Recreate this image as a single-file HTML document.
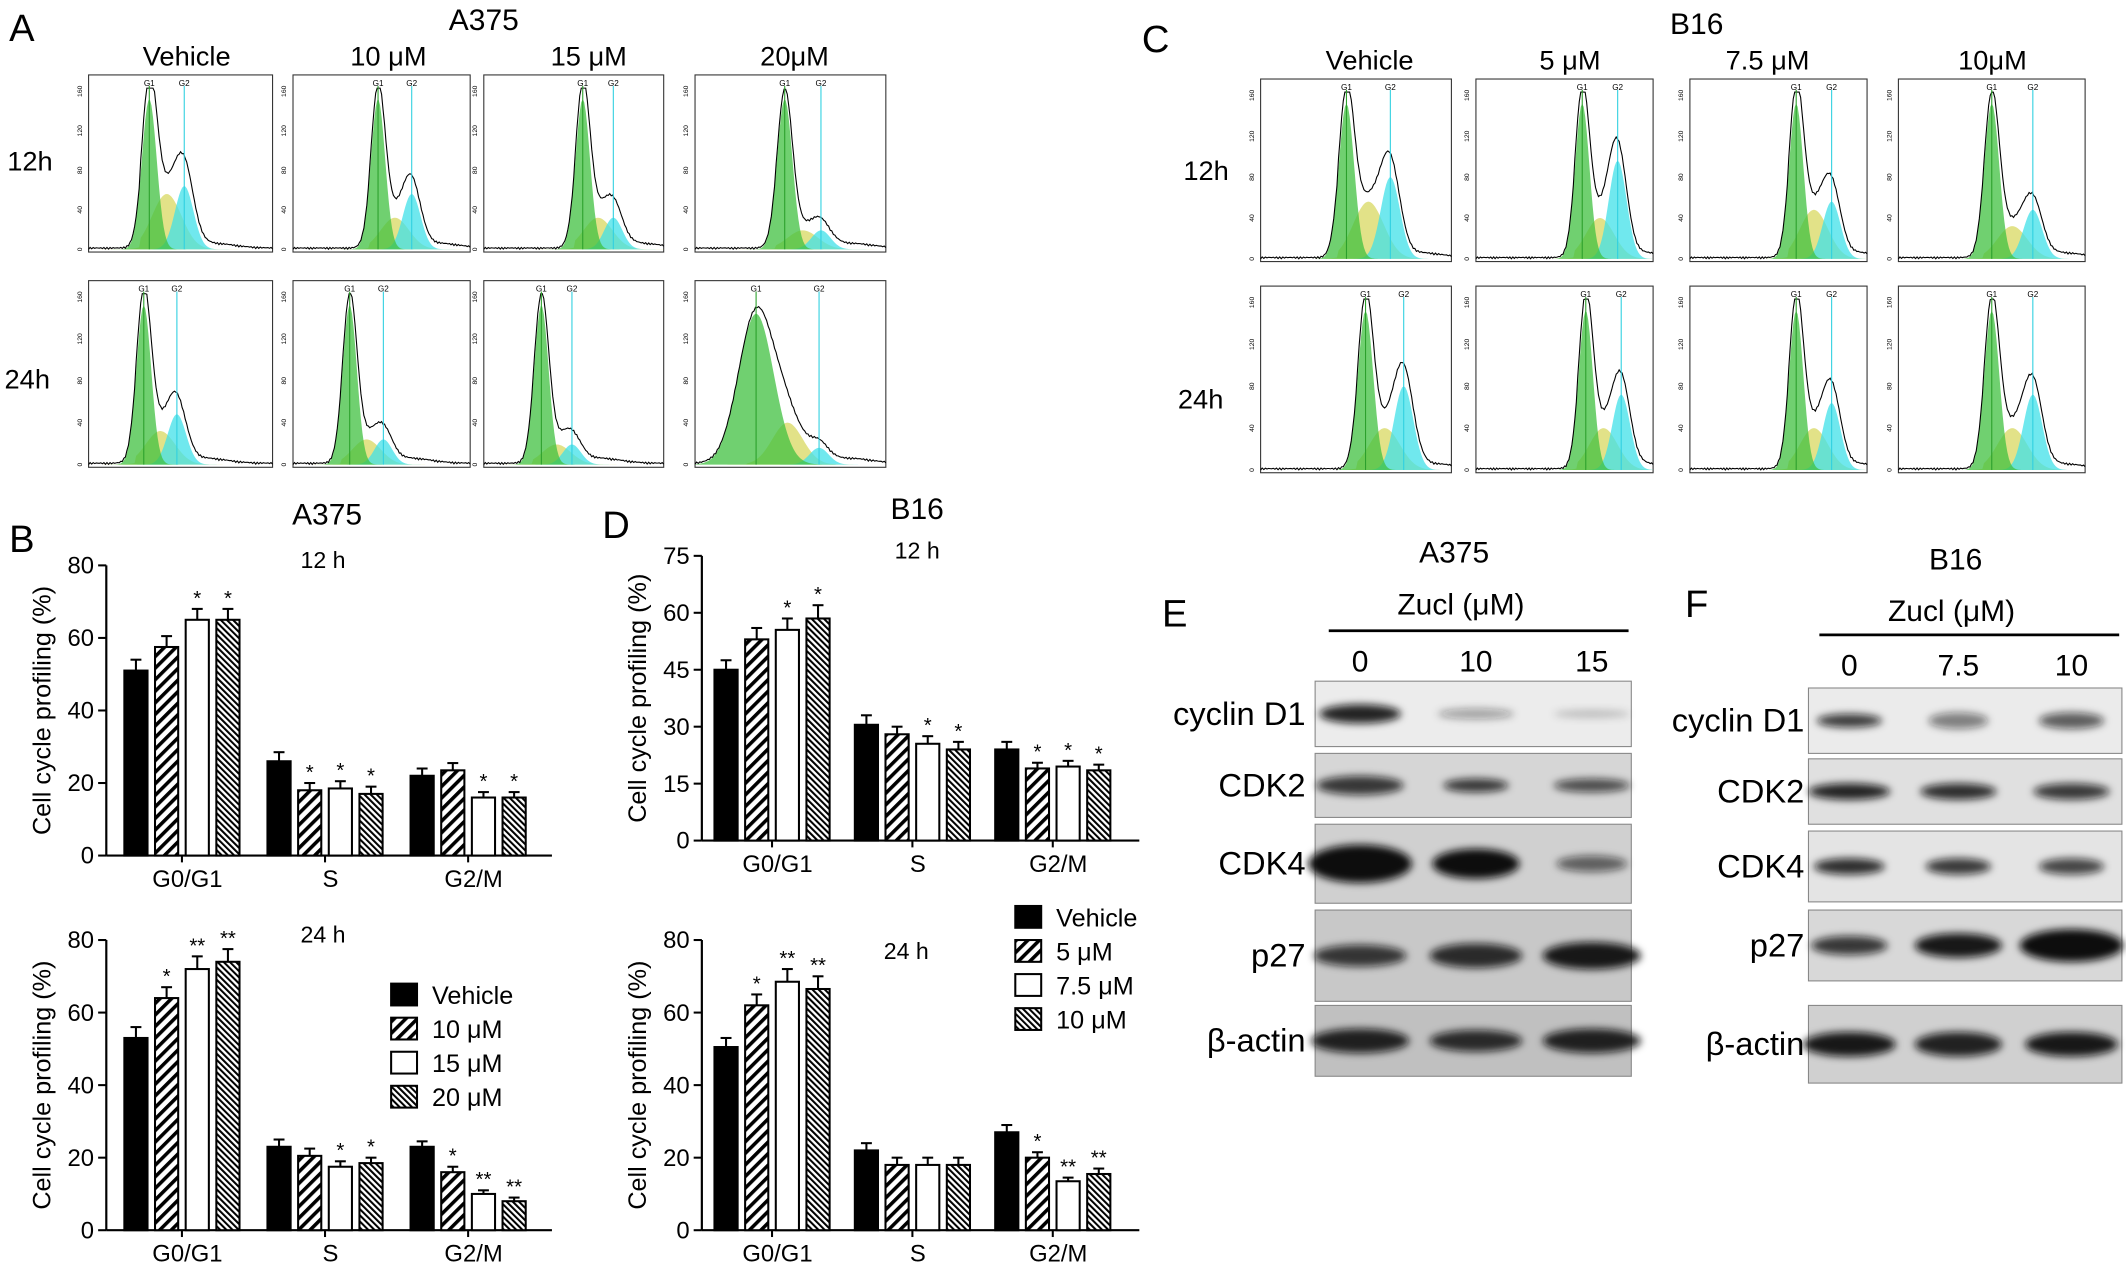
<!DOCTYPE html>
<html><head><meta charset="utf-8"><style>
html,body{margin:0;padding:0;background:#fff;}
svg{display:block;font-family:"Liberation Sans",Arial,sans-serif;}
</style></head><body>
<svg id="fig" width="2126" height="1267" viewBox="0 0 1560 930" preserveAspectRatio="none" xmlns="http://www.w3.org/2000/svg">
<defs>
<pattern id="hatchA" patternUnits="userSpaceOnUse" width="6" height="6" patternTransform="rotate(45)"><rect width="6" height="6" fill="#fff"/><rect width="2.6" height="6" fill="#000"/></pattern>
<pattern id="hatchB" patternUnits="userSpaceOnUse" width="3.2" height="3.2" patternTransform="rotate(-45)"><rect width="3.2" height="3.2" fill="#fff"/><rect width="1.5" height="3.2" fill="#000"/></pattern>
<filter id="blur" x="-30%" y="-80%" width="160%" height="260%"><feGaussianBlur stdDeviation="3"/></filter>
</defs>
<g id="root"></g>
</svg>
<script>
// ---- bar chart data ----
const categories=["G0/G1","S","G2/M"];
const a375_12h=[[51,57.5,65,65],[26,18,18.5,17],[22,23.5,16,16]];
const a375_24h=[[53,64,72,74],[23,20.5,17.5,18.5],[23,16,10,8]];
const b16_12h=[[45,53,55.5,58.5],[30.5,28,25.5,24],[24,19,19.5,18.5]];
const b16_24h=[[50.5,62,68.5,66.5],[22,18,18,18],[27,20,13.5,15.5]];
const a375_12h_err=[[3,3,3,3],[2.5,2,2,2],[2,2,1.5,1.5]];
const a375_24h_err=[[3,3,3.5,3.5],[2,2,1.5,1.5],[1.5,1.5,1,1]];
const b16_12h_err=[[2.5,3,3,3.5],[2.5,2,2,2],[2,1.5,1.5,1.5]];
const b16_24h_err=[[2.5,3,3.5,3.5],[2,2,2,2],[2,1.5,1,1.5]];
const a375_12h_stars=[["","","*","*"],["","*","*","*"],["","","*","*"]];
const a375_24h_stars=[["","*","**","**"],["","","*","*"],["","*","**","**"]];
const b16_12h_stars=[["","","*","*"],["","","*","*"],["","*","*","*"]];
const b16_24h_stars=[["","*","**","**"],["","","",""],["","*","**","**"]];
const ticksA=[0,20,40,60,80];
const ticksB12=[0,15,30,45,60,75];
const legendA=["Vehicle","10 μM","15 μM","20 μM"];
const legendB=["Vehicle","5 μM","7.5 μM","10 μM"];

const NS="http://www.w3.org/2000/svg";
const root=document.getElementById('root');
function el(tag,attrs,parent,text){const e=document.createElementNS(NS,tag);for(const k in attrs)e.setAttribute(k,attrs[k]);if(text!==undefined)e.textContent=text;(parent||root).appendChild(e);return e;}
const fills=["#000","url(#hatchA)","#fff","url(#hatchB)"];

function txt(x,y,s,size,name,anchor){const t=el('text',{x:x,y:y,'font-size':size,'text-anchor':anchor||'middle',fill:'#000'},root,s);

return t;}

function chart(name,x0,x1,off,yTop,yBot,ymax,ticks,vals,errs,stars){
  const g=el('g',{});
  
  
  const ys=v=>yBot-(v/ymax)*(yBot-yTop);
  const band=(x1-x0)/categories.length;
  el('line',{x1:x0,y1:yTop,x2:x0,y2:yBot,stroke:'#000','stroke-width':1.6},g);
  el('line',{x1:x0,y1:yBot,x2:x1+12,y2:yBot,stroke:'#000','stroke-width':1.6},g);
  ticks.forEach(t=>{el('line',{x1:x0-6,y1:ys(t),x2:x0,y2:ys(t),stroke:'#000','stroke-width':1.5},g);
    const tl=el('text',{x:x0-9,y:ys(t)+6,'font-size':17.5,'text-anchor':'end'},g,t);
    
    });
  const bw=17,gap=5.5;
  categories.forEach((c,i)=>{
    const cx=x0+band*(i+0.5)+off;
    el('line',{x1:cx,y1:yBot,x2:cx,y2:yBot+5,stroke:'#000','stroke-width':1.5},g);
    const cl=el('text',{x:cx+4,y:yBot+23,'font-size':17.5,'text-anchor':'middle'},g,c);
    
    
    const start=cx-(4*bw+3*gap)/2;
    vals[i].forEach((v,j)=>{
      const bx=start+j*(bw+gap);
      const top=ys(v+errs[i][j]);
      el('line',{x1:bx+bw/2,y1:ys(v),x2:bx+bw/2,y2:top,stroke:'#000','stroke-width':1.5},g);
      el('line',{x1:bx+bw/2-4,y1:top,x2:bx+bw/2+4,y2:top,stroke:'#000','stroke-width':1.5},g);
      const r=el('rect',{x:bx,y:ys(v),width:bw,height:yBot-ys(v),fill:fills[j],stroke:'#000','stroke-width':1.5},g);
      
      
      if(stars[i][j]){const st=el('text',{x:bx+bw/2,y:top-3,'font-size':15,'text-anchor':'middle'},g,stars[i][j]);
        
        }
    });
  });
  const yl=el('text',{transform:`translate(${x0-41},${(yTop+yBot)/2}) rotate(-90)`,'font-size':18.5,'text-anchor':'middle'},g,'Cell cycle profiling (%)');
  
  
}
function legend(name,x,y,labels){
  const g=el('g',{});
  
  
  labels.forEach((l,j)=>{
    el('rect',{x:x,y:y+j*25-8,width:19,height:16,fill:fills[j],stroke:'#000','stroke-width':1.5},g);
    const t=el('text',{x:x+30,y:y+j*25+7,'font-size':18.5},g,l);
    
    
  });
}

// Panel B
txt(16,405,'B',28,'panel-label-b');
txt(240,385,'A375',22,'title-b');
txt(237,417,'12 h',17,'subtitle-12h');
chart('chart-a375-12h',78,393,3,415,628,80,ticksA,a375_12h,a375_12h_err,a375_12h_stars);
txt(237,692,'24 h',17,'subtitle-24h');
chart('chart-a375-24h',78,393,3,690,903,80,ticksA,a375_24h,a375_24h_err,a375_24h_stars);
legend('legend-a375',287,730,legendA);
// Panel D
txt(452,395,'D',28,'panel-label-d');
txt(673,381,'B16',22,'title-d');
txt(673,410,'12 h',17,'subtitle-12h');
chart('chart-b16-12h',515,824,0,408,617,75,ticksB12,b16_12h,b16_12h_err,b16_12h_stars);
txt(665,704,'24 h',17,'subtitle-24h');
chart('chart-b16-24h',515,824,0,690,903,80,ticksA,b16_24h,b16_24h_err,b16_24h_stars);
legend('legend-b16',745,673,legendB);

// ---- flow histograms (decorative) ----
function gauss(x,m,s){return Math.exp(-0.5*((x-m)/s)**2);}
function histo(x,y,w,h,p){
  const g=el('g',{});
  
  
  el('rect',{x:x,y:y,width:w,height:h,fill:'#fff',stroke:'#333','stroke-width':0.8},g);
  const N=120,base=y+h-2;
  const g1=p.g1*w,g2=p.g2*w;
  const f=(k,i)=>{const xx=i/N*w;
    const a=p.a*gauss(xx,g1,w*0.04*(p.s||1));
    const b=p.b*gauss(xx,(g1+g2)/2,w*0.08)*(xx>g1-w*0.05?1:0.2);
    const c=p.c*gauss(xx,g2,w*0.05);
    return [a,b,c][k];};
  const mk=(k,col)=>{let d=`M${x},${base}`;for(let i=0;i<=N;i++){d+=` L${x+i/N*w},${base-f(k,i)*(h-14)}`;}d+=` L${x+w},${base}Z`;
    el('path',{d:d,fill:col,'fill-opacity':0.75,stroke:'none'},g);};
  mk(1,'#d8d860');mk(2,'#40e0e8');mk(0,'#40c040');
  let d='';for(let i=0;i<=N;i++){const v=f(0,i)+f(1,i)+f(2,i)+0.012*Math.abs(Math.sin(i*1.7))+(i/N>p.g1?0.03*gauss(i/N*w,g2+w*0.15,w*0.12):0);
    d+=(i?' L':'M')+(x+i/N*w)+','+(base-Math.min(v,1.02)*(h-14));}
  el('path',{d:d,fill:'none',stroke:'#000','stroke-width':0.8},g);
  el('line',{x1:x+g1,y1:y+8,x2:x+g1,y2:base,stroke:'#2ca02c','stroke-width':0.8},g);
  el('line',{x1:x+g2,y1:y+8,x2:x+g2,y2:base,stroke:'#30d0e0','stroke-width':0.8},g);
  el('text',{x:x+g1,y:y+8,'font-size':6,'text-anchor':'middle'},g,'G1');
  el('text',{x:x+g2,y:y+8,'font-size':6,'text-anchor':'middle'},g,'G2');
  for(let i=0;i<5;i++){el('text',{transform:`translate(${x-5},${base-i*(h-14)/4}) rotate(-90)`,'font-size':5,'text-anchor':'middle'},g,i*40);}
}
const ap=[{g1:.33,g2:.52,a:.95,b:.35,c:.4},{g1:.48,g2:.67,a:.95,b:.2,c:.35},{g1:.55,g2:.72,a:.95,b:.2,c:.2},{g1:.47,g2:.66,a:.95,b:.12,c:.12}];
const ap2=[{g1:.3,g2:.48,a:.95,b:.2,c:.3},{g1:.32,g2:.51,a:.95,b:.15,c:.15},{g1:.32,g2:.49,a:.95,b:.12,c:.12},{g1:.32,g2:.65,a:.9,b:.25,c:.1,s:2.3}];
txt(16,30,'A',28,'panel-label-a');
txt(355,22,'A375',22,'title-a');
[[137,'Vehicle'],[285,'10 μM'],[432,'15 μM'],[583,'20μM']].forEach(c=>txt(c[0],48,c[1],20,'column-header'));
txt(22,125,'12h',20,'row-label-12h');txt(20,285,'24h',20,'row-label-24h');
const axs=[[65,135],[215,130],[355,132],[510,140]];
axs.forEach((c,i)=>{histo(c[0],55,c[1],130,ap[i]);histo(c[0],206,c[1],137,ap2[i]);});
txt(848,38,'C',28,'panel-label-c');
txt(1245,25,'B16',22,'title-c');
[[1005,'Vehicle'],[1152,'5 μM'],[1297,'7.5 μM'],[1462,'10μM']].forEach(c=>txt(c[0],51,c[1],20,'column-header'));
txt(885,132,'12h',20,'row-label-12h');txt(881,300,'24h',20,'row-label-24h');
const cxs=[[925,140],[1083,130],[1240,130],[1393,137]];
const cp=[{g1:.45,g2:.68,a:.95,b:.35,c:.5},{g1:.6,g2:.8,a:.95,b:.25,c:.6},{g1:.6,g2:.8,a:.95,b:.3,c:.35},{g1:.5,g2:.72,a:.95,b:.2,c:.3}];
const cp2=[{g1:.55,g2:.75,a:.95,b:.25,c:.5},{g1:.62,g2:.82,a:.95,b:.25,c:.45},{g1:.6,g2:.8,a:.95,b:.25,c:.4},{g1:.5,g2:.72,a:.95,b:.25,c:.45}];
cxs.forEach((c,i)=>{histo(c[0],58,c[1],134,cp[i]);histo(c[0],210,c[1],137,cp2[i]);});

// ---- western blots (decorative) ----
function blot(name,x,w,y,h,bg,bands){
  const g=el('g',{});
  
  
  el('rect',{x:x,y:y,width:w,height:h,fill:bg,stroke:'#888','stroke-width':0.8},g);
  bands.forEach(b=>el('ellipse',{cx:b[0],cy:y+h/2,rx:b[1],ry:b[2],fill:'#111','fill-opacity':b[3],filter:'url(#blur)'},g));
}
txt(862,460,'E',28,'panel-label-e');
txt(1067,413,'A375',22,'title-e');
txt(1072,451,'Zucl (μM)',22,'zucl-label-e');
el('line',{x1:975,y1:463,x2:1195,y2:463,stroke:'#000','stroke-width':2});
txt(998,493,'0',22,'dose-0');txt(1083,493,'10',22,'dose-10');txt(1168,493,'15',22,'dose-15');
const eL=[998,1083,1168];
[['cyclin D1',500,48,'#ececec',[[eL[0],30,7,.9],[eL[1],28,4,.35],[eL[2],28,3,.2]]],
 ['CDK2',553,47,'#d6d6d6',[[eL[0],32,7,.8],[eL[1],24,5,.8],[eL[2],28,5,.7]]],
 ['CDK4',605,58,'#d0d0d0',[[eL[0],38,14,1],[eL[1],32,11,1],[eL[2],26,6,.6]]],
 ['p27',668,67,'#c8c8c8',[[eL[0],34,8,.8],[eL[1],34,9,.85],[eL[2],36,10,.95]]],
 ['β-actin',738,52,'#c0c0c0',[[eL[0],36,9,.9],[eL[1],34,8,.85],[eL[2],36,9,.9]]]].forEach(r=>{
  blot('blot-e-'+r[0].replace(/\s/g,'-'),965,232,r[1],r[2],r[3],r[4]);
  txt(958,r[1]+r[2]/2+8,r[0],24,'blot-label','end');});
txt(1245,453,'F',28,'panel-label-f');
txt(1435,418,'B16',22,'title-f');
txt(1432,456,'Zucl (μM)',22,'zucl-label-f');
el('line',{x1:1335,y1:466,x2:1555,y2:466,stroke:'#000','stroke-width':2});
txt(1357,496,'0',22,'dose-0');txt(1437,496,'7.5',22,'dose-7.5');txt(1520,496,'10',22,'dose-10');
const fL=[1357,1437,1520];
[['cyclin D1',505,48,'#ebebeb',[[fL[0],24,5,.8],[fL[1],22,6,.5],[fL[2],24,6,.65]]],
 ['CDK2',557,48,'#e0e0e0',[[fL[0],30,6,.9],[fL[1],28,6,.85],[fL[2],28,6,.8]]],
 ['CDK4',610,52,'#e4e4e4',[[fL[0],26,6,.85],[fL[1],24,6,.8],[fL[2],24,6,.75]]],
 ['p27',668,52,'#d8d8d8',[[fL[0],28,7,.8],[fL[1],32,9,.95],[fL[2],38,12,1]]],
 ['β-actin',738,57,'#d0d0d0',[[fL[0],34,9,.95],[fL[1],32,9,.9],[fL[2],34,9,.95]]]].forEach(r=>{
  blot('blot-f-'+r[0].replace(/\s/g,'-'),1327,230,r[1],r[2],r[3],r[4]);
  txt(1324,r[1]+r[2]/2+8,r[0],24,'blot-label','end');});
</script>
</body></html>
